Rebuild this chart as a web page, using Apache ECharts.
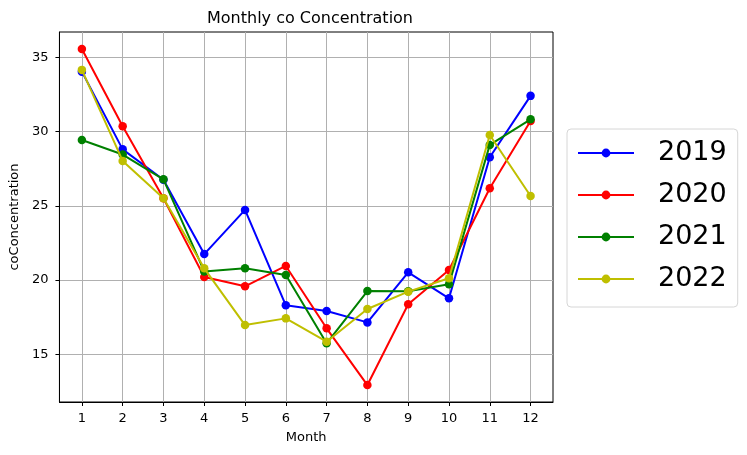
<!DOCTYPE html>
<html>
<head>
<meta charset="utf-8">
<script src="https://cdn.jsdelivr.net/npm/echarts@6/dist/echarts.min.js"></script>
<style>html,body{margin:0;padding:0;background:#fff}#c{width:747px;height:455px}</style>
</head>
<body>
<div id="c"></div>
<script>
const months = [1,2,3,4,5,6,7,8,9,10,11,12];
const xTicks = [1,2,3,4,5,6,7,8,9,10,11,12];
const yTicks = [15,20,25,30,35];
const y2019 = [34.03,28.8,26.75,21.75,24.72,18.3,17.92,17.15,20.52,18.77,28.27,32.4];
const y2020 = [35.56,30.35,25.5,20.2,19.58,20.95,16.75,12.93,18.37,20.68,26.18,30.71];
const y2021 = [29.43,28.45,26.78,20.58,20.79,20.34,15.74,19.26,19.24,19.71,29.1,30.82];
const y2022 = [34.15,28.02,25.5,20.79,16.97,17.42,15.85,18.05,19.22,20.12,29.77,25.66];
const seriesNames = ['2019','2020','2021','2022'];
const seriesData = [y2019,y2020,y2021,y2022];
const colors = ['#0000ff','#ff0000','#008000','#bfbf00'];

const FONT = 'DejaVu Sans';
const chart = echarts.init(document.getElementById('c'), null, {renderer:'canvas'});
chart.setOption({
  animation:false,
  backgroundColor:'#fff',
  title:{text:'Monthly co Concentration', left:305, top:6, textAlign:'center',
    textStyle:{fontFamily:FONT, fontSize:16, fontWeight:'normal', color:'#000'}},
  grid:{left:57, right:194, top:32, bottom:53, show:true, borderColor:'#000', borderWidth:1, backgroundColor:'transparent'},
  legend:{
    orient:'vertical', left:567, top:129,
    padding:[10,11,14,10], itemGap:14, itemWidth:56, itemHeight:11,
    backgroundColor:'#fff', borderColor:'#d6d6d6', borderWidth:1, borderRadius:4,
    textStyle:{fontFamily:FONT, fontSize:27, color:'#000', lineHeight:28, padding:[0,0,0,19]},
    data:seriesNames
  },
  xAxis:{
    type:'value', min:0.45, max:12.55,
    name:'Month', nameLocation:'middle', nameGap:29,
    nameTextStyle:{fontFamily:FONT, fontSize:13, color:'#000'},
    axisLine:{show:true, onZero:false, lineStyle:{color:'#000', width:1}},
    axisTick:{show:true, inside:false, length:4, lineStyle:{color:'#000'}, customValues:xTicks},
    axisLabel:{fontFamily:FONT, fontSize:13, color:'#000', margin:10, customValues:xTicks},
    splitLine:{show:true, lineStyle:{color:'#b0b0b0', width:1}}
  },
  yAxis:{
    type:'value', min:11.79, max:36.70,
    name:'coConcentration', nameLocation:'middle', nameGap:33,
    nameTextStyle:{fontFamily:FONT, fontSize:13, color:'#000'},
    axisLine:{show:true, onZero:false, lineStyle:{color:'#000', width:1}},
    axisTick:{show:true, inside:false, length:4, lineStyle:{color:'#000'}, customValues:yTicks},
    axisLabel:{fontFamily:FONT, fontSize:13, color:'#000', margin:11, customValues:yTicks},
    splitLine:{show:true, lineStyle:{color:'#b0b0b0', width:1}}
  },
  series: seriesNames.map((n,i)=>({
    name:n, type:'line',
    data: months.map((m,j)=>[m, seriesData[i][j]]),
    symbol:'circle', symbolSize:8.5,
    itemStyle:{color:colors[i]},
    lineStyle:{color:colors[i], width:2},
    z: 2+i
  }))
});
</script>
</body>
</html>
